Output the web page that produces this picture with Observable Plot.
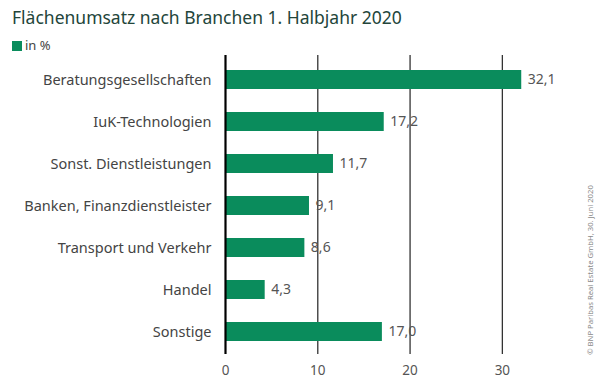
<!DOCTYPE html>
<html><head><meta charset="utf-8">
<script src="https://cdn.jsdelivr.net/npm/d3@7"></script>
<script src="https://cdn.jsdelivr.net/npm/@observablehq/plot@0.6"></script>
<style>
body{margin:0;background:#fff;font-family:"Noto Sans",sans-serif;}
#wrap{position:relative;width:600px;height:392px;overflow:hidden;}
#title{position:absolute;left:12px;top:5px;font-size:17.5px;color:#23453a;letter-spacing:0px;}
#legend{position:absolute;left:12px;top:36px;font-size:13px;color:#444;}
#legend span{display:inline-block;width:10px;height:10px;background:#0a8c5c;margin-right:3px;vertical-align:-1px;}
#chart{position:absolute;left:0;top:52px;}
#copy{position:absolute;left:590px;top:270px;transform:translate(-50%,-50%) rotate(-90deg);font-size:7.7px;color:#8a8a8a;white-space:nowrap;}
</style></head>
<body><div id="wrap">
<div id="title">Flächenumsatz nach Branchen 1. Halbjahr 2020</div>
<div id="legend"><span></span>in %</div>
<div id="chart"></div>
<div id="copy">© BNP Paribas Real Estate GmbH, 30. Juni 2020</div>
</div>
<script>
const categories = ["Beratungsgesellschaften","IuK-Technologien","Sonst. Dienstleistungen","Banken, Finanzdienstleister","Transport und Verkehr","Handel","Sonstige"];
const values = [32.1,17.2,11.7,9.1,8.6,4.3,17.0];
const xTicks = [0,10,20,30];
const data = categories.map((c,i)=>({cat:c,val:values[i]}));
const fmt = v => v.toFixed(1).replace(".", ",");
const green = "#0a8c5c";
const plot = Plot.plot({
  width: 600, height: 340,
  marginLeft: 225, marginRight: 52, marginTop: 5, marginBottom: 38,
  style:{fontFamily:"Noto Sans, sans-serif", fontSize:"13px", color:"#444", background:"transparent"},
  x:{domain:[0,35], ticks:xTicks, label:null},
  y:{domain:categories, label:null, paddingInner:0.55, paddingOuter:0.27},
  marks:[
    Plot.ruleX(xTicks.filter(d=>d>0), {stroke:"#333", strokeWidth:1.3, insetTop:-2}),
    Plot.barX(data,{x:"val", y:"cat", fill:green}),
    Plot.ruleX([0],{stroke:"#000", strokeWidth:2.2, insetTop:-2}),
    Plot.text(data,{x:"val", y:"cat", text:d=>fmt(d.val), textAnchor:"start", dx:6, fill:"#555", fontSize:14}),
    Plot.axisY({tickSize:0, tickPadding:14, fontSize:14.5, fill:"#444"}),
    Plot.axisX({tickSize:0, tickPadding:11, fontSize:13.5, fill:"#555"})
  ]
});
document.getElementById("chart").appendChild(plot);
</script>
</body></html>
